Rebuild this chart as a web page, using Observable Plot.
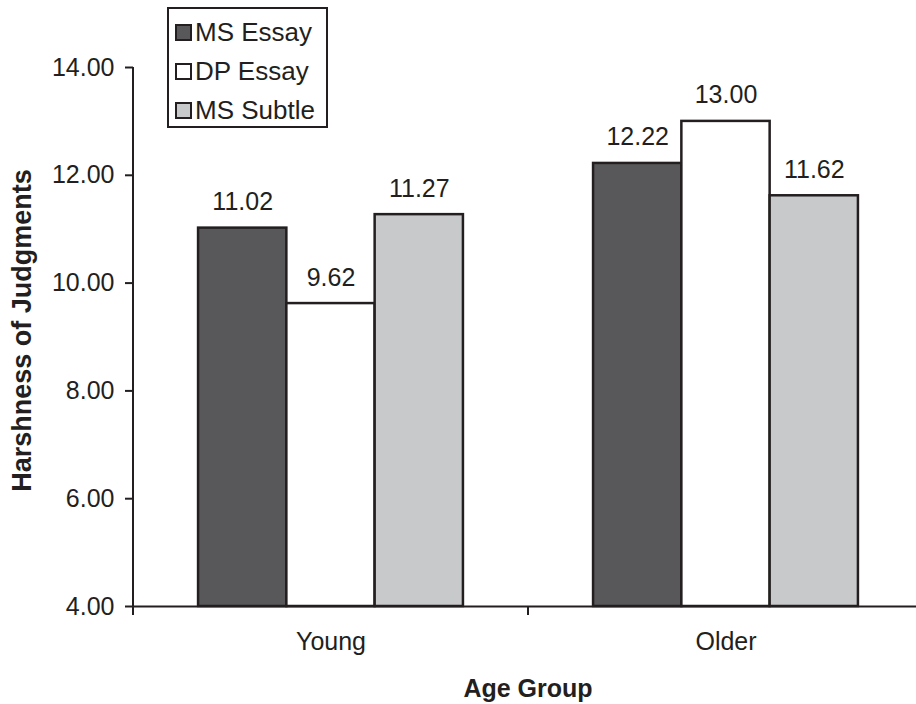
<!DOCTYPE html>
<html>
<head>
<meta charset="utf-8">
<script src="https://cdn.jsdelivr.net/npm/d3@7"></script>
<script src="https://cdn.jsdelivr.net/npm/@observablehq/plot@0.6"></script>
<style>
  html, body { margin: 0; padding: 0; background: #fff; overflow: hidden; }
  #wrap { position: relative; width: 916px; height: 704px; overflow: hidden; font-family: "Liberation Sans", Arial, sans-serif; }
  #chart svg { max-width: none !important; display: block; }
  #legend { position: absolute; left: 167px; top: 7px; width: 157px; height: 117px; border: 2px solid #231f20; background: #fff; box-sizing: content-box; }
  .item { position: absolute; left: 6px; height: 26px; display: flex; align-items: center; font-size: 26px; color: #231f20; white-space: nowrap; }
  .sw { width: 13px; height: 13px; border: 2.5px solid #231f20; margin-right: 3px; }
</style>
</head>
<body>
<div id="wrap">
  <div id="chart"></div>
  <div id="legend"></div>
</div>
<script>
const groups = ["Young", "Older"];
const series = ["MS Essay", "DP Essay", "MS Subtle"];
const youngValues = [11.02, 9.62, 11.27];
const olderValues = [12.22, 13.00, 11.62];
const seriesColors = ["#58585a", "#ffffff", "#c8c9cb"];
const yTicks = [4, 6, 8, 10, 12, 14];
const yDomain = [4, 14];

const data = [];
series.forEach((s, i) => {
  data.push({group: groups[0], series: s, value: youngValues[i]});
  data.push({group: groups[1], series: s, value: olderValues[i]});
});

const ink = "#231f20";
const fmt = d3.format(".2f");

const chart = Plot.plot({
  width: 923,
  height: 704,
  marginLeft: 133,
  marginRight: 0,
  marginTop: 67,
  marginBottom: 98,
  style: {fontFamily: "'Liberation Sans', Arial, sans-serif", fontSize: "25px", color: ink, background: "#fff"},
  fx: {domain: groups, padding: 0, round: false, label: null},
  x: {domain: series, paddingInner: 0, paddingOuter: 0.737, round: false, axis: null},
  y: {domain: yDomain, label: null},
  color: {domain: series, range: seriesColors},
  marks: [
    Plot.axisY({ticks: yTicks, tickFormat: fmt, tickSize: 8, tickPadding: 11, fontSize: 25, stroke: ink, strokeWidth: 2, label: null}),
    Plot.axisFx({anchor: "bottom", tickSize: 0, tickPadding: 26, fontSize: 25, label: null}),
    Plot.barY(data, {fx: "group", x: "series", y1: yDomain[0], y2: "value", fill: "series", stroke: ink, strokeWidth: 2.5}),
    Plot.ruleY([yDomain[0]], {stroke: ink, strokeWidth: 2}),
    Plot.text(data, {fx: "group", x: "series", y: "value", text: d => fmt(d.value), lineAnchor: "bottom", dy: -18, fontSize: 25, fill: ink})
  ]
});
document.getElementById("chart").appendChild(chart);

// axis line, category boundary ticks and axis titles drawn from the plot's own scales
const svg = d3.select(chart);
const fxS = chart.scale("fx");
const yS = chart.scale("y");
const yScale = d3.scaleLinear().domain(yS.domain).range(yS.range);
const fxBand = d3.scaleBand().domain(fxS.domain).range(fxS.range).padding(0);
const yBase = yScale(yDomain[0]);
const yTop = yScale(yDomain[1]);
const bounds = fxS.domain.map(g => fxBand(g)).concat([fxBand.range()[1]]);
const axG = svg.append("g").attr("stroke", ink).attr("stroke-width", 2);
axG.append("line").attr("x1", bounds[0]).attr("x2", bounds[0]).attr("y1", yTop).attr("y2", yBase + 9);
bounds.slice(1).forEach(b => axG.append("line").attr("x1", b).attr("x2", b).attr("y1", yBase).attr("y2", yBase + 9));
svg.append("text").attr("x", (bounds[0] + bounds[bounds.length - 1]) / 2).attr("y", 697)
  .attr("text-anchor", "middle").attr("font-weight", "bold").attr("font-size", 25).attr("fill", ink).text("Age Group");
svg.append("text").attr("transform", `translate(31,${(yTop + yBase) / 2 - 6}) rotate(-90)`)
  .attr("text-anchor", "middle").attr("font-weight", "bold").attr("font-size", 27).attr("fill", ink).text("Harshness of Judgments");

// legend
const leg = document.getElementById("legend");
series.forEach((s, i) => {
  const it = document.createElement("div");
  it.className = "item";
  it.style.top = (10 + i * 39) + "px";
  const sw = document.createElement("div");
  sw.className = "sw";
  sw.style.background = seriesColors[i];
  it.appendChild(sw);
  it.appendChild(document.createTextNode(s));
  leg.appendChild(it);
});
</script>
</body>
</html>
